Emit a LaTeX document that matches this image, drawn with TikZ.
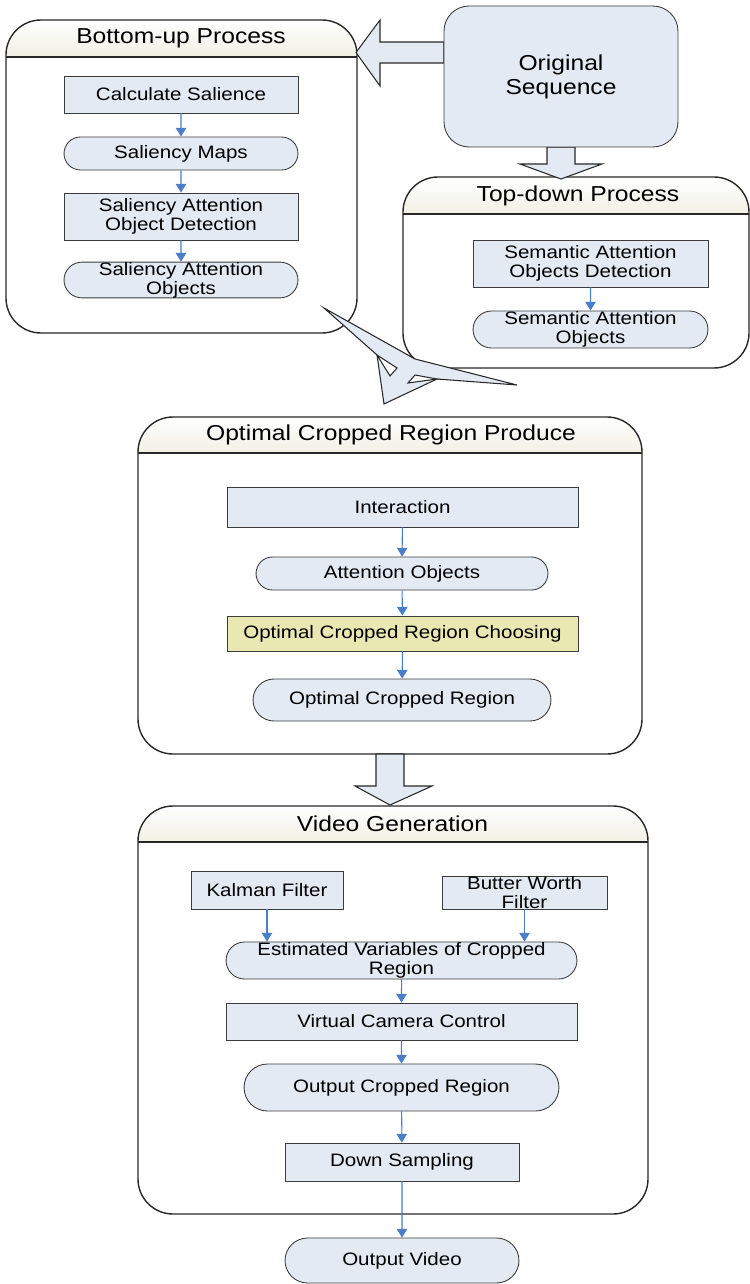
\documentclass[tikz,border=0pt]{standalone}
\usepackage{fontspec}
\setmainfont{Liberation Sans}[FakeStretch=1.14]
\usetikzlibrary{arrows.meta,shapes.misc}

\definecolor{boxfill}{RGB}{228,234,244}
\definecolor{choosefill}{RGB}{234,232,178}
\definecolor{flowblue}{RGB}{74,126,200}
\definecolor{headcream}{RGB}{240,240,228}
\definecolor{linegray}{RGB}{40,40,40}
\definecolor{boxline}{RGB}{60,60,60}

\tikzset{
  procbox/.style={draw=boxline,fill=boxfill,rectangle,line width=0.5pt,inner sep=0pt,
    align=center,font=\fontsize{10.25pt}{10.8pt}\selectfont},
  datanode/.style={procbox,rounded rectangle},
  flow/.style={draw=flowblue,line width=0.6pt,-{Triangle[length=5pt,width=6pt]}},
  group/.style={draw=linegray,line width=0.8pt,rounded corners=0.7cm},
  grouphead/.style={top color=white,bottom color=headcream},
  grouptitle/.style={font=\fontsize{12.3pt}{13pt}\selectfont,inner sep=0pt},
  bigarrow/.style={draw=linegray,fill=boxfill,line width=0.6pt,line join=miter},
}

\begin{document}
\begin{tikzpicture}[x=0.02cm,y=-0.02cm]
  \useasboundingbox (0,0) rectangle (750,1284);

  % process groups
  \begin{scope}
    \clip[rounded corners=0.7cm] (6,20) rectangle (357,333);
    \fill[grouphead] (6,20) rectangle (357,57);
  \end{scope}
  \draw[linegray,line width=0.8pt] (6,57) -- (357,57);
  \draw[group] (6,20) rectangle (357,333);
  \node[grouptitle] (bottomup) at (181,38.5) {Bottom-up Process};

  \begin{scope}
    \clip[rounded corners=0.7cm] (403,177) rectangle (749,368);
    \fill[grouphead] (403,177) rectangle (749,214);
  \end{scope}
  \draw[linegray,line width=0.8pt] (403,214) -- (749,214);
  \draw[group] (403,177) rectangle (749,368);
  \node[grouptitle] (topdown) at (578,195.5) {Top-down Process};

  \begin{scope}
    \clip[rounded corners=0.7cm] (138,417) rectangle (642,754);
    \fill[grouphead] (138,417) rectangle (642,453);
  \end{scope}
  \draw[linegray,line width=0.8pt] (138,453) -- (642,453);
  \draw[group] (138,417) rectangle (642,754);
  \node[grouptitle] (produce) at (391,435) {Optimal Cropped Region Produce};

  \begin{scope}
    \clip[rounded corners=0.7cm] (138,806) rectangle (648,1214);
    \fill[grouphead] (138,806) rectangle (648,842);
  \end{scope}
  \draw[linegray,line width=0.8pt] (138,842) -- (648,842);
  \draw[group] (138,806) rectangle (648,1214);
  \node[grouptitle] (generation) at (392.5,824) {Video Generation};

  % block arrows
  \draw[bigarrow] (444,42) -- (380,42) -- (380,20) -- (356,52.5) -- (380,86) -- (380,63) -- (444,63) -- cycle;
  \draw[bigarrow] (547,147) -- (547,164) -- (520,164) -- (561,179) -- (602,164) -- (575,164) -- (575,147) -- cycle;
  \draw[bigarrow] (376,754) -- (376,786) -- (355,786) -- (390,805) -- (432,786) -- (404,786) -- (404,754) -- cycle;
  \draw[bigarrow] (324,308) -- (415,359) -- (517,385) -- (437,379) -- (384,404) -- (377,355) -- cycle;
  \draw[linegray,fill=white,line width=0.6pt] (377,355) -- (397,368) -- (390,376) -- cycle;
  \draw[linegray,fill=white,line width=0.6pt] (408,383) -- (415,375) -- (437,379) -- cycle;

  % nodes
  \node[procbox,rounded corners=0.5cm,minimum width=4.68cm,minimum height=2.82cm,
    font=\fontsize{12.3pt}{13.7pt}\selectfont] (orig) at (561,76.5) {Original\\Sequence};

  \node[procbox,minimum width=4.68cm,minimum height=0.74cm] (calc) at (181,94.5) {Calculate Salience};
  \node[datanode,minimum width=4.68cm,minimum height=0.66cm] (smaps) at (181,153.5) {Saliency Maps};
  \node[procbox,minimum width=4.68cm,minimum height=0.94cm] (sdet) at (181,216.5) {Saliency Attention\\Object Detection};
  \node[datanode,minimum width=4.68cm,minimum height=0.68cm] (sobj) at (181,280) {Saliency Attention\\Objects};

  \node[procbox,minimum width=4.70cm,minimum height=0.94cm] (semdet) at (590.5,263.5) {Semantic Attention\\Objects Detection};
  \node[datanode,minimum width=4.70cm,minimum height=0.74cm] (semobj) at (590.5,329.5) {Semantic Attention\\Objects};

  \node[procbox,minimum width=7.02cm,minimum height=0.80cm] (inter) at (402.5,507) {Interaction};
  \node[datanode,minimum width=5.84cm,minimum height=0.66cm] (attobj) at (402,573.5) {Attention Objects};
  \node[procbox,fill=choosefill,minimum width=7.02cm,minimum height=0.70cm] (choose) at (402.5,633.5) {Optimal Cropped Region Choosing};
  \node[datanode,minimum width=5.96cm,minimum height=0.84cm] (optreg) at (402,700) {Optimal Cropped Region};

  \node[procbox,minimum width=3.04cm,minimum height=0.76cm] (kalman) at (267,890) {Kalman Filter};
  \node[procbox,minimum width=3.30cm,minimum height=0.66cm] (butter) at (524.5,892.5) {Butter Worth\\Filter};
  \node[datanode,minimum width=7.02cm,minimum height=0.74cm] (estvar) at (401.5,960.5) {Estimated Variables of Cropped\\Region};
  \node[procbox,minimum width=7.02cm,minimum height=0.74cm] (vcam) at (401.5,1021.5) {Virtual Camera Control};
  \node[datanode,minimum width=6.30cm,minimum height=0.94cm] (outreg) at (401.5,1087.5) {Output Cropped Region};
  \node[procbox,minimum width=4.68cm,minimum height=0.76cm] (down) at (402,1162) {Down Sampling};
  \node[datanode,minimum width=4.68cm,minimum height=0.90cm] (outvid) at (402,1260.5) {Output Video};

  % flow
  \draw[flow] (calc) -- (smaps);
  \draw[flow] (smaps) -- (sdet);
  \draw[flow] (sdet) -- (sobj);
  \draw[flow] (semdet) -- (semobj);
  \draw[flow] (inter) -- (attobj);
  \draw[flow] (attobj) -- (choose);
  \draw[flow] (choose) -- (optreg);
  \draw[flow] (kalman.south) -- (kalman.south |- estvar.north);
  \draw[flow] (butter.south) -- (butter.south |- estvar.north);
  \draw[flow] (estvar) -- (vcam);
  \draw[flow] (vcam) -- (outreg);
  \draw[flow] (outreg) -- (down);
  \draw[flow] (down) -- (outvid);
\end{tikzpicture}
\end{document}
